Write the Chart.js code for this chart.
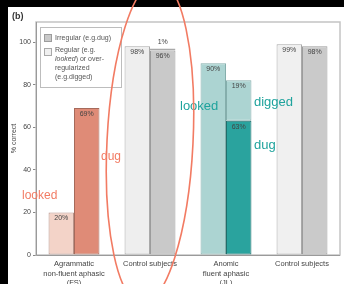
<!DOCTYPE html>
<html><head><meta charset="utf-8">
<script src="https://cdn.jsdelivr.net/npm/chart.js@4/dist/chart.umd.min.js"></script>
<style>html,body{margin:0;padding:0;background:#fff}#w{width:344px;height:284px}</style>
</head><body><div id="w"><canvas id="c"></canvas></div>
<script>
const categories = [["Agrammatic","non-fluent aphasic","(FS)"],"Control subjects",["Anomic","fluent aphasic","(JL)"],"Control subjects"];
const regularValues = [20, 98, 90, 99];
const irregularValues = [69, 96, 63, 98];
const overregValues = [null, 1, 19, null];
const yTicks = [0, 20, 40, 60, 80, 100];

const regColors = ['#f3d3c8','#eeeeee','#acd4d2','#f0f0f0'];
const regBorders = ['#b8948a','#a9a9a9','#85aeac','#a9a9a9'];
const irrColors = ['#df8b77','#c9c9c9','#2aa39e','#cacaca'];
const irrBorders = ['#a66a5b','#9c9c9c','#1f6e6b','#9c9c9c'];
const ovColors = ['#f3d3c8','#eeeeee','#acd4d2','#f0f0f0'];
const ovBorders = regBorders;

const SALMON = '#f27b63', TEAL = '#1fa39d';

const deco = {
  id:'deco',
  beforeDraw(chart){
    const c = chart.ctx;
    c.save();
    c.fillStyle='#fff'; c.fillRect(0,0,chart.width,chart.height);
    c.restore();
  },
  beforeDatasetsDraw(chart){
    const c = chart.ctx, a = chart.chartArea;
    c.save();
    c.strokeStyle='#c4c4c4'; c.lineWidth=1.5;
    c.strokeRect(a.left, a.top, a.right-a.left, a.bottom-a.top);
    c.strokeStyle='#9a9a9a'; c.lineWidth=1;
    c.beginPath(); c.moveTo(a.left+0.5,a.top); c.lineTo(a.left+0.5,a.bottom+0.5); c.lineTo(a.right,a.bottom+0.5); c.stroke();
    c.restore();
  },
  afterDatasetsDraw(chart){
    const c = chart.ctx;
    c.save();
    c.font='7px "Liberation Sans", Arial, sans-serif';
    c.fillStyle='#444'; c.textAlign='center'; c.textBaseline='middle';
    chart.data.datasets.forEach((ds,i)=>{
      const meta = chart.getDatasetMeta(i);
      meta.data.forEach((el,j)=>{
        const v = ds.data[j];
        if(v==null) return;
        const y = v < 5 ? el.y - 6 : el.y + 6;
        c.fillText(v+'%', el.x, y);
      });
    });
    // legend box
    c.fillStyle='#fff'; c.strokeStyle='#bdbdbd'; c.lineWidth=1;
    c.fillRect(40.5,27.5,81,60); c.strokeRect(40.5,27.5,81,60);
    c.fillStyle='#c9c9c9'; c.strokeStyle='#9c9c9c';
    c.fillRect(44.5,34.5,7,7); c.strokeRect(44.5,34.5,7,7);
    c.fillStyle='#f0f0f0'; c.strokeStyle='#a9a9a9';
    c.fillRect(44.5,48.5,7,7); c.strokeRect(44.5,48.5,7,7);
    c.fillStyle='#555'; c.textAlign='left';
    c.font='7px "Liberation Sans", Arial, sans-serif';
    c.fillText('Irregular (e.g.dug)',55,38.5);
    c.fillText('Regular (e.g.',55,50);
    c.font='italic 7px "Liberation Sans", Arial, sans-serif';
    c.fillText('looked',55,59);
    const w = c.measureText('looked').width;
    c.font='7px "Liberation Sans", Arial, sans-serif';
    c.fillText(') or over-',55+w,59);
    c.fillText('regularized',55,68);
    c.fillText('(e.g.digged)',55,77);
    // annotations
    c.font='12px "Liberation Sans", Arial, sans-serif';
    c.fillStyle=SALMON;
    c.fillText('looked',22,196);
    c.fillText('dug',101,157);
    c.font='13px "Liberation Sans", Arial, sans-serif';
    c.fillStyle=TEAL;
    c.fillText('looked',180,106);
    c.fillText('digged',254,102);
    c.fillText('dug',254,145);
    c.restore();
  },
  afterDraw(chart){
    const c = chart.ctx;
    c.save();
    c.fillStyle='#000';
    c.fillRect(0,0,8,chart.height);
    c.fillRect(0,0,chart.width,7);
    c.fillStyle='#333'; c.font='bold 9px "Liberation Sans", Arial, sans-serif';
    c.textBaseline='middle'; c.textAlign='left';
    c.fillText('(b)',12,17);
    c.strokeStyle=SALMON; c.lineWidth=1.6;
    c.beginPath(); c.ellipse(150,142,43,162,0.05,0,Math.PI*2); c.stroke();
    c.restore();
  }
};

new Chart(document.getElementById('c'), {
  type:'bar',
  data:{
    labels:categories,
    datasets:[
      {label:'Regular', data:regularValues, stack:'r', backgroundColor:regColors, borderColor:regBorders, borderWidth:1, borderSkipped:false},
      {label:'Irregular', data:irregularValues, stack:'i', backgroundColor:irrColors, borderColor:irrBorders, borderWidth:1, borderSkipped:false},
      {label:'Over-regularized', data:overregValues, stack:'i', backgroundColor:ovColors, borderColor:ovBorders, borderWidth:1, borderSkipped:false}
    ]
  },
  options:{
    responsive:true, maintainAspectRatio:false, animation:false,
    layout:{padding:{left:8,top:22,right:4,bottom:0}},
    plugins:{legend:{display:false}, tooltip:{enabled:false}},
    datasets:{bar:{categoryPercentage:0.67, barPercentage:1}},
    scales:{
      x:{stacked:true, grid:{display:false, drawTicks:false, tickLength:0}, border:{display:false},
         ticks:{color:'#444', font:{size:7.5, family:'"Liberation Sans", Arial, sans-serif', lineHeight:1.3}, padding:4, maxRotation:0, autoSkip:false},
         afterFit(s){ s.height = 29; }},
      y:{stacked:true, min:0, max:109.4,
         afterBuildTicks(s){ s.ticks = yTicks.map(v=>({value:v})); },
         grid:{drawOnChartArea:false, tickLength:3, color:'#888'}, border:{display:false},
         ticks:{color:'#444', font:{size:7, family:'"Liberation Sans", Arial, sans-serif'}, padding:2},
         title:{display:true, text:'% correct', color:'#444', font:{size:7, family:'"Liberation Sans", Arial, sans-serif'}, padding:{top:2,bottom:0}},
         afterFit(s){ s.width = 28; }}
    }
  },
  plugins:[deco]
});
</script>
</body></html>
